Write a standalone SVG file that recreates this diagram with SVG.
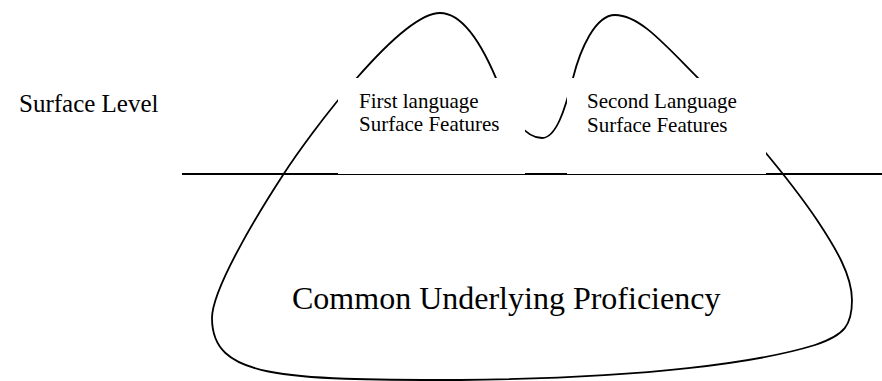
<svg xmlns="http://www.w3.org/2000/svg" width="882" height="381" viewBox="0 0 882 381">
  <style>
    .line { fill: none; stroke: #000; stroke-width: 1.8; }
    .box { fill: #fff; stroke: none; }
    .t { font-family: "Liberation Serif", "Times New Roman", serif; fill: #000; }
  </style>
  <rect width="882" height="381" fill="#fff"/>
  <g id="connectors">
    <path id="iceberg" class="line" d="M 460 380 C 280 380 212 378 212 318 C 212 290 255 218 283 175 C 310 133 400 13 440 13 C 465 13 485 50 500 88 C 512 118 525 138 542 138 C 556 138 565 110 573 78 C 580 50 595 15 615 15 C 640 15 665 45 700 80 C 740 120 790 180 817 220 C 835 247 852 275 852 300 C 852 325 845 335 815 345 C 760 362 650 378 460 380 Z"/>
    <line id="waterline" class="line" x1="182" y1="174" x2="882" y2="174" stroke-width="2"/>
  </g>
  <g id="surface-level">
    <text class="t" x="19" y="112" font-size="25">Surface Level</text>
  </g>
  <g id="first-language">
    <rect class="box" x="338" y="78" width="187" height="96"/>
    <text class="t" x="359" y="108" font-size="21">First language</text>
    <text class="t" x="359" y="131" font-size="21">Surface Features</text>
  </g>
  <g id="second-language">
    <rect class="box" x="567" y="78" width="199" height="96"/>
    <text class="t" x="587" y="108" font-size="21">Second Language</text>
    <text class="t" x="587" y="131.5" font-size="21">Surface Features</text>
  </g>
  <g id="common-underlying">
    <text class="t" x="292" y="309" font-size="32">Common Underlying Proficiency</text>
  </g>
</svg>
